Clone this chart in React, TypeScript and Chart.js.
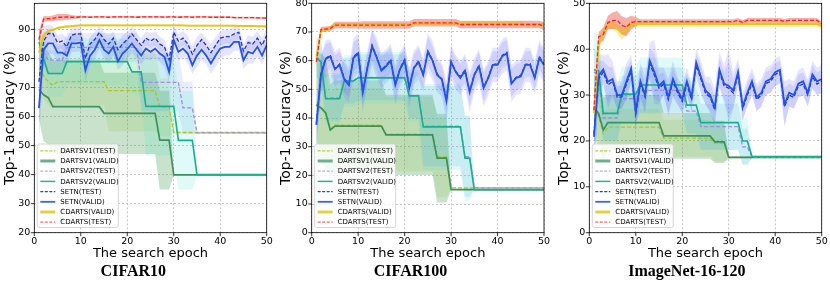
import React, { useEffect, useRef } from 'react';
import { Chart, registerables } from 'chart.js';
Chart.register(...registerables);
Chart.defaults.font.family = '"DejaVu Sans", sans-serif';

const EPOCHS = [
  1, 2, 3, 4, 5, 6, 7, 8, 9, 10,
  11, 12, 13, 14, 15, 16, 17, 18, 19, 20,
  21, 22, 23, 24, 25, 26, 27, 28, 29, 30,
  31, 32, 33, 34, 35, 36, 37, 38, 39, 40,
  41, 42, 43, 44, 45, 46, 47, 48, 49, 50,
];

const LABELS = ['DARTSV1(TEST)', 'DARTSV1(VALID)', 'DARTSV2(TEST)', 'DARTSV2(VALID)', 'SETN(TEST)', 'SETN(VALID)', 'CDARTS(VALID)', 'CDARTS(TEST)'];
const TITLES = ['CIFAR10', 'CIFAR100', 'ImageNet-16-120'];
const X_LABEL = 'The search epoch';
const Y_LABEL = 'Top-1 accuracy (%)';

// ---------------- CIFAR10 ----------------
const C10_V1_TEST = [
  76.6, 74, 72, 70.8, 72, 72, 72, 72, 72, 72,
  72, 72, 72, 72, 72, 68.9, 68.9, 68.9, 68.9, 68.9,
  68.9, 68.9, 68.9, 68.9, 68.9, 68.9, 63.2, 63.2, 63.2, 54.5,
  54.5, 54.5, 54.5, 54.5, 54.5, 54.5, 54.5, 54.5, 54.5, 54.5,
  54.5, 54.5, 54.5, 54.5, 54.5, 54.5, 54.5, 54.5, 54.5, 54.5,
];
const C10_V1_TEST_STD = [
  6, 8, 8, 8, 8, 8, 8, 8, 8, 8,
  8, 8, 8, 8, 8, 14, 14, 14, 14, 14,
  14, 14, 14, 14, 14, 14, 10, 10, 10, 0.3,
  0.3, 0.3, 0.3, 0.3, 0.3, 0.3, 0.3, 0.3, 0.3, 0.3,
  0.3, 0.3, 0.3, 0.3, 0.3, 0.3, 0.3, 0.3, 0.3, 0.3,
];
const C10_V1_VALID = [
  69.3, 67.5, 66.5, 63.4, 63.4, 63.4, 63.4, 63.4, 63.4, 63.4,
  63.4, 63.4, 63.4, 63.4, 61.1, 61.1, 61.1, 61.1, 61.1, 61.1,
  61.1, 61.1, 61.1, 61.1, 61.1, 61.1, 51.9, 51.9, 51.9, 39.9,
  39.9, 39.9, 39.9, 39.9, 39.9, 39.9, 39.9, 39.9, 39.9, 39.9,
  39.9, 39.9, 39.9, 39.9, 39.9, 39.9, 39.9, 39.9, 39.9, 39.9,
];
const C10_V1_VALID_STD = [
  10, 16, 16, 16, 16, 16, 16, 16, 16, 16,
  16, 16, 16, 16, 14, 14, 14, 14, 14, 14,
  14, 14, 14, 14, 14, 14, 17, 17, 17, 0.2,
  0.2, 0.2, 0.2, 0.2, 0.2, 0.2, 0.2, 0.2, 0.2, 0.2,
  0.2, 0.2, 0.2, 0.2, 0.2, 0.2, 0.2, 0.2, 0.2, 0.2,
];
const C10_V2_TEST = [
  84, 82, 79.4, 79.4, 79.4, 79.4, 83.8, 83.8, 83.8, 83.8,
  83.8, 83.8, 83.8, 83.8, 83.8, 83.8, 83.8, 83.8, 83.8, 83.8,
  83.8, 83.8, 71.8, 71.8, 71.8, 71.8, 71.8, 71.8, 71.8, 71.8,
  71.8, 63, 63, 63, 54.4, 54.4, 54.4, 54.4, 54.4, 54.4,
  54.4, 54.4, 54.4, 54.4, 54.4, 54.4, 54.4, 54.4, 54.4, 54.4,
];
const C10_V2_TEST_STD = [
  5, 5, 5, 5, 5, 5, 5, 5, 5, 5,
  5, 5, 5, 5, 5, 5, 5, 5, 5, 5,
  5, 5, 10, 10, 10, 10, 10, 10, 10, 10,
  10, 9, 9, 9, 0.3, 0.3, 0.3, 0.3, 0.3, 0.3,
  0.3, 0.3, 0.3, 0.3, 0.3, 0.3, 0.3, 0.3, 0.3, 0.3,
];
const C10_V2_VALID = [
  85.7, 80, 74.8, 74.8, 74.8, 74.8, 78.9, 78.9, 78.9, 78.9,
  78.9, 78.9, 78.9, 78.9, 78.9, 78.9, 78.9, 78.9, 78.9, 78.9,
  75.4, 75.4, 75.4, 63.5, 63.5, 63.5, 63.5, 63.5, 63.5, 63.5,
  51.8, 51.8, 51.8, 51.8, 40, 40, 40, 40, 40, 40,
  40, 40, 40, 40, 40, 40, 40, 40, 40, 40,
];
const C10_V2_VALID_STD = [
  6, 6, 8, 8, 8, 8, 8, 8, 8, 8,
  8, 8, 8, 8, 8, 8, 8, 8, 8, 8,
  8, 8, 8, 17, 17, 17, 17, 17, 17, 17,
  17, 17, 17, 17, 0.2, 0.2, 0.2, 0.2, 0.2, 0.2,
  0.2, 0.2, 0.2, 0.2, 0.2, 0.2, 0.2, 0.2, 0.2, 0.2,
];
const C10_SETN_TEST = [
  72, 86, 88.6, 88.6, 85.5, 86, 84, 88, 88.5, 88.5,
  80, 85, 86.5, 89, 86.5, 85, 87, 83, 85, 86.5,
  88.5, 86.5, 84.5, 87, 86, 87, 85, 84, 79.5, 89,
  86, 87, 85, 81.5, 84.5, 86.5, 84.5, 82, 84.5, 87,
  87.5, 87.5, 88.5, 89, 82.5, 85.5, 85, 87, 84.5, 88,
];
const C10_SETN_TEST_STD = [
  10, 5, 3, 2.5, 2.5, 2.5, 3, 2.5, 2.5, 2.5,
  3, 2.5, 2.5, 2.5, 2.5, 3, 2.5, 2.5, 3, 2.5,
  2.5, 2.5, 2.5, 2.5, 2.5, 2.5, 2.5, 2.5, 2.5, 2.5,
  2.5, 2.5, 3, 2.5, 3, 2.5, 2.5, 3, 3, 2.5,
  2.5, 2.5, 2.5, 2.5, 2.5, 2.5, 2.5, 2.5, 2.5, 2.5,
];
const C10_SETN_VALID = [
  62.9, 83, 85.2, 85.2, 82, 82, 81, 85.2, 85.2, 85.5,
  76, 81, 83, 86.3, 83, 81.7, 84, 79, 81.7, 83.2,
  85.2, 83, 81, 83.4, 82.3, 83.4, 81.7, 80.6, 75.4, 86.3,
  82.3, 83.4, 81.7, 77.7, 81, 83, 81, 78.3, 81, 83.4,
  84, 84, 85.7, 85.7, 79.4, 82.3, 81.7, 84, 81, 84.6,
];
const C10_SETN_VALID_STD = [
  12, 6, 4, 3.5, 3, 3, 3.5, 3, 3, 3,
  4, 3.5, 3, 3, 3, 3.5, 3, 3, 4, 3.5,
  3, 3, 3, 3.5, 3, 3, 3, 3.5, 3.5, 4,
  3, 3, 3.5, 3, 4, 3.5, 3, 3.5, 4, 3.5,
  3, 3, 3, 3, 3, 4, 3.5, 3.5, 3, 3,
];
const C10_CD_VALID = [
  82, 88, 89.5, 89.8, 90.5, 90.8, 91, 91.1, 91.3, 91.4,
  91.4, 91.4, 91.4, 91.4, 91.4, 91.4, 91.4, 91.4, 91.4, 91.4,
  91.4, 91.4, 91.4, 91.4, 91.4, 91.4, 91.4, 91.4, 91.4, 91.4,
  91.4, 91.4, 91.3, 91.3, 91.3, 91.3, 91.3, 91.3, 91.3, 91.3,
  91.3, 91.3, 91.3, 91.2, 91.2, 91.2, 91.2, 91.1, 91.1, 91.0,
];
const C10_CD_VALID_STD = [
  4, 1, 0.6, 0.5, 0.4, 0.4, 0.4, 0.4, 0.4, 0.4,
  0.35, 0.35, 0.35, 0.35, 0.35, 0.35, 0.35, 0.35, 0.35, 0.35,
  0.35, 0.35, 0.35, 0.35, 0.35, 0.35, 0.35, 0.35, 0.35, 0.35,
  0.35, 0.35, 0.35, 0.35, 0.35, 0.35, 0.35, 0.35, 0.35, 0.35,
  0.35, 0.35, 0.35, 0.35, 0.35, 0.35, 0.35, 0.35, 0.35, 0.35,
];
const C10_CD_TEST = [
  86.5, 93.6, 93.7, 93.8, 94.2, 94.2, 94.3, 94.2, 94.2, 94.3,
  94.3, 94.2, 94.3, 94.3, 94.3, 94.2, 94.3, 94.3, 94.3, 94.3,
  94.3, 94.2, 94.3, 94.3, 94.3, 94.3, 94.3, 94.2, 94.3, 94.3,
  94.2, 94.3, 94.3, 94.2, 94.3, 94.3, 94.3, 94.2, 94.2, 94.2,
  94.2, 94.2, 94.1, 94.1, 94.1, 94.1, 94.1, 94.0, 94.0, 93.9,
];
const C10_CD_TEST_STD = [
  3, 1, 0.8, 1, 1.1, 1.1, 1, 0.8, 0.5, 0.4,
  0.3, 0.3, 0.3, 0.3, 0.3, 0.3, 0.3, 0.3, 0.3, 0.3,
  0.3, 0.3, 0.3, 0.3, 0.3, 0.3, 0.3, 0.3, 0.3, 0.3,
  0.3, 0.3, 0.3, 0.3, 0.3, 0.3, 0.3, 0.3, 0.3, 0.3,
  0.3, 0.3, 0.3, 0.3, 0.3, 0.3, 0.3, 0.3, 0.3, 0.3,
];

// ---------------- CIFAR100 ----------------
const C100_V1_TEST = [
  44.8, 43.8, 42.1, 36.1, 37.5, 37.5, 37.5, 37.5, 37.5, 37.5,
  37.5, 37.5, 37.5, 37.5, 37.5, 34.4, 34.4, 34.4, 34.4, 34.4,
  34.4, 34.4, 34.4, 34.4, 34.4, 34.4, 26.4, 26.4, 26.4, 15.6,
  15.6, 15.6, 15.6, 15.6, 15.6, 15.6, 15.6, 15.6, 15.6, 15.6,
  15.6, 15.6, 15.6, 15.6, 15.6, 15.6, 15.6, 15.6, 15.6, 15.6,
];
const C100_V1_TEST_STD = [
  15, 15, 15, 13, 13, 13, 13, 13, 13, 13,
  13, 13, 13, 13, 13, 13, 13, 13, 13, 13,
  13, 13, 13, 13, 13, 13, 14, 14, 14, 0.2,
  0.2, 0.2, 0.2, 0.2, 0.2, 0.2, 0.2, 0.2, 0.2, 0.2,
  0.2, 0.2, 0.2, 0.2, 0.2, 0.2, 0.2, 0.2, 0.2, 0.2,
];
const C100_V1_VALID = [
  44.5, 43.5, 41.8, 35.8, 37.2, 37.2, 37.2, 37.2, 37.2, 37.2,
  37.2, 37.2, 37.2, 37.2, 37.2, 34.1, 34.1, 34.1, 34.1, 34.1,
  34.1, 34.1, 34.1, 34.1, 34.1, 34.1, 26, 26, 26, 15,
  15, 15, 15, 15, 15, 15, 15, 15, 15, 15,
  15, 15, 15, 15, 15, 15, 15, 15, 15, 15,
];
const C100_V1_VALID_STD = [
  19, 19, 19, 16, 16, 16, 16, 16, 16, 16,
  16, 16, 16, 16, 16, 14, 14, 14, 14, 14,
  14, 14, 14, 14, 14, 14, 15.5, 15.5, 15.5, 0.2,
  0.2, 0.2, 0.2, 0.2, 0.2, 0.2, 0.2, 0.2, 0.2, 0.2,
  0.2, 0.2, 0.2, 0.2, 0.2, 0.2, 0.2, 0.2, 0.2, 0.2,
];
const C100_V2_TEST = [
  61.5, 59.8, 47, 47, 47, 47, 53, 53, 53, 54.2,
  54.2, 54.2, 54.2, 54.2, 54.2, 54.2, 54.2, 54.2, 54.2, 54.2,
  47.9, 47.9, 47.9, 37.2, 37.2, 37.2, 37.2, 37.2, 37.2, 37.2,
  37.2, 37.2, 26.5, 26.5, 15.6, 15.6, 15.6, 15.6, 15.6, 15.6,
  15.6, 15.6, 15.6, 15.6, 15.6, 15.6, 15.6, 15.6, 15.6, 15.6,
];
const C100_V2_TEST_STD = [
  7, 7, 8, 8, 8, 8, 8, 8, 8, 8,
  8, 8, 8, 8, 8, 8, 8, 8, 8, 8,
  8, 8, 8, 14, 14, 14, 14, 14, 14, 14,
  14, 14, 14, 14, 0.2, 0.2, 0.2, 0.2, 0.2, 0.2,
  0.2, 0.2, 0.2, 0.2, 0.2, 0.2, 0.2, 0.2, 0.2, 0.2,
];
const C100_V2_VALID = [
  61, 59.5, 46.7, 46.7, 46.7, 46.7, 52.9, 52.9, 52.9, 54,
  54, 54, 54, 54, 54, 54, 54, 54, 54, 54,
  47.7, 47.7, 47.7, 36.9, 36.9, 36.9, 36.9, 36.9, 36.9, 36.9,
  36.9, 36.9, 26, 26, 15, 15, 15, 15, 15, 15,
  15, 15, 15, 15, 15, 15, 15, 15, 15, 15,
];
const C100_V2_VALID_STD = [
  7, 7, 9, 9, 9, 9, 9, 9, 9, 9,
  9, 9, 9, 9, 9, 9, 9, 9, 9, 9,
  9, 9, 9, 15, 15, 15, 15, 15, 15, 15,
  15, 15, 15, 15, 0.2, 0.2, 0.2, 0.2, 0.2, 0.2,
  0.2, 0.2, 0.2, 0.2, 0.2, 0.2, 0.2, 0.2, 0.2, 0.2,
];
const C100_SETN_TEST = [
  38, 55.4, 60.8, 61.9, 57.2, 58.8, 53.9, 51.7, 61.3, 62.9,
  49.3, 57.8, 65.4, 61.2, 56.8, 58.4, 60.2, 51.9, 57.3, 60.4,
  50.8, 57.7, 59.9, 55.2, 63.4, 60.2, 55.4, 53.7, 46.4, 59.7,
  56.3, 54.4, 56.7, 49.4, 55.2, 58.4, 50.8, 54.2, 58.9, 58.7,
  61.8, 62.9, 52.3, 54.2, 54.9, 58.7, 58.9, 54.2, 61.4, 58.8,
];
const C100_SETN_TEST_STD = [
  7, 6, 5, 4.5, 4.5, 4.5, 5, 4.5, 5, 5,
  5, 4.5, 5, 5, 4.5, 4.5, 4.5, 5, 4.5, 4.5,
  5, 4.5, 4.5, 4.5, 5, 5, 4.5, 4.5, 5, 4.5,
  4.5, 4.5, 4.5, 5, 4.5, 4.5, 5, 4.5, 4.5, 4.5,
  4.5, 4.5, 5, 4.5, 4.5, 4.5, 4.5, 4.5, 4.5, 4.5,
];
const C100_SETN_VALID = [
  37.6, 55, 60.5, 61.5, 57, 58.5, 53.5, 51.5, 61, 62.5,
  49, 57.5, 65, 61, 56.5, 58, 60, 51.5, 57, 60,
  50.5, 57.5, 59.5, 55, 63, 60, 55, 53.5, 46, 59.5,
  56, 54, 56.5, 49, 55, 58, 50.5, 54, 58.5, 58.5,
  61.5, 62.5, 52, 54, 54.5, 58.5, 58.5, 54, 61, 58.5,
];
const C100_SETN_VALID_STD = [
  8, 7, 6.5, 6, 6, 6, 6.5, 6, 7, 7,
  7, 6, 6.5, 7, 6, 6, 6, 7, 6, 6,
  7, 6, 6, 6, 6.5, 7, 6, 6, 7, 6,
  6, 6, 6, 7, 6, 6, 6.5, 6, 6, 6,
  6, 6, 6.5, 6, 6, 6, 6, 6, 6, 6,
];
const C100_CD_VALID = [
  61, 70.5, 70.8, 71.5, 72.5, 72.5, 72.5, 72.5, 72.5, 72.5,
  72.5, 72.5, 72.5, 72.5, 72.5, 72.5, 72.5, 72.5, 72.5, 72.5,
  72.5, 73, 73, 73, 73, 73, 73, 73, 73, 73,
  73, 73, 73, 73, 73, 73, 73, 73, 73, 73,
  73, 73, 73, 73, 73, 72.5, 72.5, 72.5, 72.5, 72.5,
];
const C100_CD_VALID_STD = [
  1.5, 0.6, 0.6, 0.6, 0.6, 0.6, 0.6, 0.6, 0.6, 0.6,
  0.6, 0.6, 0.6, 0.6, 0.6, 0.6, 0.6, 0.6, 0.6, 0.6,
  0.6, 0.6, 0.6, 0.6, 0.6, 0.6, 0.6, 0.6, 0.6, 0.6,
  0.6, 0.6, 0.6, 0.6, 0.6, 0.6, 0.6, 0.6, 0.6, 0.6,
  0.6, 0.6, 0.6, 0.6, 0.6, 0.6, 0.6, 0.6, 0.6, 0.6,
];
const C100_CD_TEST = [
  59.6, 70.9, 71, 71.2, 72.4, 72.4, 72.4, 72.4, 72.4, 72.4,
  72.4, 72.4, 72.4, 72.4, 72.4, 72.4, 72.4, 72.4, 72.4, 72.4,
  72.4, 73.2, 73.2, 73.2, 73.2, 73.2, 73.2, 73.2, 73.2, 73.2,
  73.2, 72.6, 72.6, 72.6, 72.6, 72.6, 72.6, 72.6, 72.6, 72.6,
  72.6, 72.6, 72.6, 72.6, 72.6, 72.6, 72.6, 72.6, 72.6, 72,
];
const C100_CD_TEST_STD = [
  2, 0.9, 0.9, 0.9, 1.2, 1.2, 1.2, 1.2, 1.2, 1.2,
  1.3, 1.3, 1.3, 1.3, 1.3, 1.3, 1.3, 1.3, 1.3, 1.3,
  1.3, 1.3, 1.3, 1.3, 1.3, 1.3, 1.3, 1.3, 1.3, 1.3,
  1.3, 1.3, 1.3, 1.3, 1.3, 1.3, 1.3, 1.3, 1.3, 1.3,
  1.3, 1.3, 1.3, 1.3, 1.3, 1.3, 1.3, 1.3, 1.3, 1.4,
];

// ---------------- ImageNet-16-120 ----------------
const IN_V1_TEST = [
  27, 25.5, 21.6, 23, 23, 23, 23, 23, 23, 23,
  23, 23, 23, 23, 23, 20.6, 20.6, 20.6, 20.6, 20.6,
  20.6, 20.6, 20.6, 20.6, 20.6, 20.6, 19.5, 19.5, 19.5, 16.4,
  16.4, 16.4, 16.4, 16.4, 16.4, 16.4, 16.4, 16.4, 16.4, 16.4,
  16.4, 16.4, 16.4, 16.4, 16.4, 16.4, 16.4, 16.4, 16.4, 16.4,
];
const IN_V1_TEST_STD = [
  5, 5, 5, 4, 4, 4, 4, 4, 4, 4,
  4, 4, 4, 4, 4, 4, 4, 4, 4, 4,
  4, 4, 4, 4, 4, 4, 4, 4, 4, 0.2,
  0.2, 0.2, 0.2, 0.2, 0.2, 0.2, 0.2, 0.2, 0.2, 0.2,
  0.2, 0.2, 0.2, 0.2, 0.2, 0.2, 0.2, 0.2, 0.2, 0.2,
];
const IN_V1_VALID = [
  27.3, 26, 22.4, 24, 24, 24, 24, 24, 24, 24,
  24, 24, 24, 24, 24, 21.1, 21.1, 21.1, 21.1, 21.1,
  21.1, 21.1, 21.1, 21.1, 21.1, 21.1, 19.8, 19.8, 19.8, 16.4,
  16.4, 16.4, 16.4, 16.4, 16.4, 16.4, 16.4, 16.4, 16.4, 16.4,
  16.4, 16.4, 16.4, 16.4, 16.4, 16.4, 16.4, 16.4, 16.4, 16.4,
];
const IN_V1_VALID_STD = [
  7, 7, 7, 6, 6, 6, 6, 6, 6, 6,
  6, 6, 6, 6, 6, 5, 5, 5, 5, 5,
  5, 5, 5, 5, 5, 5, 4.6, 4.6, 4.6, 0.2,
  0.2, 0.2, 0.2, 0.2, 0.2, 0.2, 0.2, 0.2, 0.2, 0.2,
  0.2, 0.2, 0.2, 0.2, 0.2, 0.2, 0.2, 0.2, 0.2, 0.2,
];
const IN_V2_TEST = [
  35, 34.5, 25, 25, 25, 25, 29.2, 29.2, 29.2, 29.2,
  31, 31, 31, 31, 31, 31, 31, 31, 31, 31,
  26.5, 26.5, 26.5, 23.1, 23.1, 23.1, 23.1, 23.1, 23.1, 23.1,
  23.1, 23.1, 18.7, 18.7, 16.5, 16.5, 16.5, 16.5, 16.5, 16.5,
  16.5, 16.5, 16.5, 16.5, 16.5, 16.5, 16.5, 16.5, 16.5, 16.5,
];
const IN_V2_TEST_STD = [
  5, 5, 5, 5, 5, 5, 5, 5, 5, 5,
  5, 5, 5, 5, 5, 5, 5, 5, 5, 5,
  5, 5, 5, 5, 5, 5, 5, 5, 5, 5,
  5, 5, 4, 4, 0.2, 0.2, 0.2, 0.2, 0.2, 0.2,
  0.2, 0.2, 0.2, 0.2, 0.2, 0.2, 0.2, 0.2, 0.2, 0.2,
];
const IN_V2_VALID = [
  35.5, 35.3, 26, 26, 26, 26, 30.2, 30.2, 30.2, 30.2,
  32.2, 32.2, 32.2, 32.2, 32.2, 32.2, 32.2, 32.2, 32.2, 32.2,
  27.8, 27.8, 27.8, 24, 24, 24, 24, 24, 24, 24,
  24, 24, 20, 20, 16.6, 16.6, 16.6, 16.6, 16.6, 16.6,
  16.6, 16.6, 16.6, 16.6, 16.6, 16.6, 16.6, 16.6, 16.6, 16.6,
];
const IN_V2_VALID_STD = [
  8, 8, 6, 6, 6, 6, 6, 6, 6, 6,
  6, 6, 6, 6, 6, 6, 6, 6, 6, 6,
  6, 6, 6, 6, 6, 6, 6, 6, 6, 6,
  6, 6, 5, 5, 0.2, 0.2, 0.2, 0.2, 0.2, 0.2,
  0.2, 0.2, 0.2, 0.2, 0.2, 0.2, 0.2, 0.2, 0.2, 0.2,
];
const IN_SETN_TEST = [
  21.5, 33.5, 35, 32.2, 33, 29.5, 29.6, 32.4, 35.2, 26,
  32.5, 29.6, 37, 34.3, 31.5, 32.4, 29, 33, 30.5, 28.6,
  32.4, 29, 36.5, 33.5, 30.4, 29.5, 26.8, 35, 32, 31.5,
  30.4, 34.5, 27, 30, 32.4, 29, 30, 32.5, 33, 34.5,
  35, 27.5, 30, 29.5, 32, 32.4, 30, 34, 32.4, 33,
];
const IN_SETN_TEST_STD = [
  8, 4, 2.5, 4, 3, 2.5, 2.5, 3, 2.5, 3,
  3, 3, 3, 5, 3, 2.5, 3, 3, 2.5, 2.5,
  2.5, 2.5, 2.5, 3, 2.5, 3, 3, 3, 3, 6,
  3, 2.5, 2.5, 2.5, 2.5, 2.5, 2.5, 2.5, 2.5, 2.5,
  2.5, 4, 2.5, 2.5, 2.5, 2.5, 2.5, 2.5, 2.5, 2.5,
];
const IN_SETN_VALID = [
  20.9, 34.2, 35.6, 32.9, 33.5, 30, 30, 33, 35.8, 26.4,
  33, 30, 37.5, 35, 32, 33, 29.5, 33.5, 31, 29.1,
  33, 29.5, 37.1, 34, 31, 30, 27.3, 35.5, 32.5, 32,
  31, 35, 27.5, 30.5, 33, 29.5, 30.5, 33, 33.5, 35,
  35.5, 28, 30.5, 30, 32.5, 33, 30.5, 34.5, 33, 33.5,
];
const IN_SETN_VALID_STD = [
  10, 5, 3, 6, 4, 3, 3, 4, 3, 4,
  4, 4, 4, 7, 4, 3, 4, 4, 3, 3,
  3, 3, 3, 3.5, 3, 4, 4, 4, 4, 8,
  4, 3, 3, 3, 3, 3, 3, 3, 3, 3,
  3, 5, 3, 3, 3, 3, 3, 3, 3, 3,
];
const IN_CD_VALID = [
  26, 41, 43.5, 45.3, 45.2, 44.5, 43.5, 44.2, 45.5, 45.5,
  45.5, 45.5, 45.5, 45.5, 45.5, 45.5, 45.5, 45.5, 45.5, 45.5,
  45.5, 45.5, 45.5, 45.5, 45.5, 45.5, 45.5, 45.5, 45.5, 45.5,
  45.5, 45.5, 45.5, 45.5, 45.5, 45.5, 45.5, 45.5, 45.5, 45.5,
  45.5, 45.5, 45.5, 45.5, 45.5, 45.5, 45.5, 45.5, 45.5, 45,
];
const IN_CD_VALID_STD = [
  1, 1, 1, 0.8, 0.8, 1, 1.5, 1, 0.8, 0.6,
  0.6, 0.6, 0.6, 0.6, 0.6, 0.6, 0.6, 0.6, 0.6, 0.6,
  0.6, 0.6, 0.6, 0.6, 0.6, 0.6, 0.6, 0.6, 0.6, 0.6,
  0.6, 0.6, 0.6, 0.6, 0.6, 0.6, 0.6, 0.6, 0.6, 0.6,
  0.6, 0.6, 0.6, 0.6, 0.6, 0.6, 0.6, 0.6, 0.6, 0.6,
];
const IN_CD_TEST = [
  26.7, 42.7, 43.2, 45.8, 46.2, 46.3, 45.2, 44.8, 45.8, 46,
  46, 46, 46, 46, 46, 46, 46, 46, 46, 46,
  46, 46, 46, 46, 46, 46, 46, 46, 46, 46,
  46, 46.3, 45.8, 46.3, 46.3, 46.3, 46.3, 46.3, 46.3, 46.3,
  46.3, 46.1, 46.3, 46.3, 46.3, 46.3, 46.3, 46.3, 46.3, 45.5,
];
const IN_CD_TEST_STD = [
  1, 1, 1.5, 1.5, 1.8, 2, 2, 2, 1.5, 1,
  0.5, 0.5, 0.5, 0.5, 0.5, 0.5, 0.5, 0.5, 0.5, 0.5,
  0.5, 0.5, 0.5, 0.5, 0.5, 0.5, 0.5, 0.5, 0.5, 0.5,
  0.5, 0.5, 0.5, 0.5, 0.5, 0.5, 0.5, 0.5, 0.5, 0.5,
  0.5, 0.5, 0.5, 0.5, 0.5, 0.5, 0.5, 0.5, 0.5, 0.5,
];

const STYLES = [
  { color: '#a9c622', dash: true, width: 1.3, band: 'rgba(154,205,50,0.16)', legendColor: '#b5cf3a', legendWidth: 1.3 },
  { color: 'rgba(46,139,87,0.9)', dash: false, width: 1.7, band: 'rgba(60,150,70,0.28)', legendColor: '#6db08a', legendWidth: 3 },
  { color: '#a28be6', dash: true, width: 1.3, band: 'rgba(110,160,230,0.18)', legendColor: '#b9a9ee', legendWidth: 1.3 },
  { color: '#17b08c', dash: false, width: 1.6, band: 'rgba(64,224,208,0.16)', legendColor: '#22b592', legendWidth: 1.5 },
  { color: '#1a36c0', dash: true, width: 1.3, band: 'rgba(100,100,255,0.17)', legendColor: '#2a45c4', legendWidth: 1.3 },
  { color: '#2352ea', dash: false, width: 1.8, band: 'rgba(100,100,255,0.17)', legendColor: '#3a63ee', legendWidth: 1.8 },
  { color: '#e2c61a', dash: false, width: 1.9, band: 'rgba(240,205,30,0.38)', legendColor: '#e3d048', legendWidth: 3 },
  { color: '#ff2222', dash: true, width: 1.3, band: 'rgba(230,70,50,0.42)', legendColor: '#ff6666', legendWidth: 1.3 },
];

const PANELS = [
  {
    title: TITLES[0], left: 0, width: 277, yW: 34.3, padR: 10.3, yMin: 20, yMax: 99, yTitlePad: 1.6,
    means: [C10_V1_TEST, C10_V1_VALID, C10_V2_TEST, C10_V2_VALID, C10_SETN_TEST, C10_SETN_VALID, C10_CD_VALID, C10_CD_TEST],
    stds: [C10_V1_TEST_STD, C10_V1_VALID_STD, C10_V2_TEST_STD, C10_V2_VALID_STD, C10_SETN_TEST_STD, C10_SETN_VALID_STD, C10_CD_VALID_STD, C10_CD_TEST_STD],
  },
  {
    title: TITLES[1], left: 277, width: 275, yW: 34.7, padR: 8, yMin: 0, yMax: 80, yTitlePad: 0.6,
    means: [C100_V1_TEST, C100_V1_VALID, C100_V2_TEST, C100_V2_VALID, C100_SETN_TEST, C100_SETN_VALID, C100_CD_VALID, C100_CD_TEST],
    stds: [C100_V1_TEST_STD, C100_V1_VALID_STD, C100_V2_TEST_STD, C100_V2_VALID_STD, C100_SETN_TEST_STD, C100_SETN_VALID_STD, C100_CD_VALID_STD, C100_CD_TEST_STD],
  },
  {
    title: TITLES[2], left: 552, width: 278, yW: 37.3, padR: 8.3, yMin: 0, yMax: 50, yTitlePad: 3.6,
    means: [IN_V1_TEST, IN_V1_VALID, IN_V2_TEST, IN_V2_VALID, IN_SETN_TEST, IN_SETN_VALID, IN_CD_VALID, IN_CD_TEST],
    stds: [IN_V1_TEST_STD, IN_V1_VALID_STD, IN_V2_TEST_STD, IN_V2_VALID_STD, IN_SETN_TEST_STD, IN_SETN_VALID_STD, IN_CD_VALID_STD, IN_CD_TEST_STD],
  },
];

const framePlugin = {
  id: 'frameTicks',
  afterDatasetsDraw(chart: any) {
    const { ctx, chartArea: a, scales } = chart;
    ctx.save();
    ctx.setLineDash([]);
    ctx.strokeStyle = '#000';
    ctx.lineWidth = 0.8;
    ctx.strokeRect(a.left, a.top, a.right - a.left, a.bottom - a.top);
    ctx.beginPath();
    scales.x.ticks.forEach((t: any) => {
      const px = scales.x.getPixelForValue(t.value);
      ctx.moveTo(px, a.bottom);
      ctx.lineTo(px, a.bottom + 3.5);
    });
    scales.y.ticks.forEach((t: any) => {
      const py = scales.y.getPixelForValue(t.value);
      ctx.moveTo(a.left - 3.5, py);
      ctx.lineTo(a.left, py);
    });
    ctx.stroke();
    ctx.restore();
  },
};

const legendPlugin = {
  id: 'boxLegend',
  afterDraw(chart: any) {
    const { ctx, chartArea: a } = chart;
    const w = 81;
    const h = 83.5;
    const x0 = a.left + 3;
    const y0 = a.bottom - 5.2 - h;
    ctx.save();
    ctx.setLineDash([]);
    ctx.fillStyle = 'rgba(255,255,255,0.82)';
    ctx.strokeStyle = '#cccccc';
    ctx.lineWidth = 0.8;
    ctx.beginPath();
    if (ctx.roundRect) ctx.roundRect(x0, y0, w, h, 2);
    else ctx.rect(x0, y0, w, h);
    ctx.fill();
    ctx.stroke();
    ctx.font = '7px "DejaVu Sans"';
    ctx.textBaseline = 'middle';
    ctx.textAlign = 'left';
    LABELS.forEach((lab, i) => {
      const s = STYLES[i];
      const y = y0 + 6.8 + i * 10.2;
      ctx.beginPath();
      ctx.setLineDash(s.dash ? [3, 1.5] : []);
      ctx.strokeStyle = s.legendColor;
      ctx.lineWidth = s.legendWidth;
      ctx.moveTo(x0 + 3, y);
      ctx.lineTo(x0 + 18, y);
      ctx.stroke();
      ctx.setLineDash([]);
      ctx.fillStyle = '#000';
      ctx.fillText(lab, x0 + 23, y + 0.3);
    });
    ctx.restore();
  },
};

function Panel({ cfg }: { cfg: any }) {
  const ref = useRef<HTMLCanvasElement | null>(null);
  useEffect(() => {
    if (!ref.current) return;
    const datasets: any[] = [];
    cfg.means.forEach((m: number[], i: number) => {
      const sd = cfg.stds[i];
      const st = STYLES[i];
      datasets.push({
        data: EPOCHS.map((e, k) => ({ x: e, y: m[k] - sd[k] })),
        borderWidth: 0, borderColor: 'rgba(0,0,0,0)', pointRadius: 0, fill: false, order: 100 - i,
      });
      datasets.push({
        data: EPOCHS.map((e, k) => ({ x: e, y: m[k] + sd[k] })),
        borderWidth: 0, borderColor: 'rgba(0,0,0,0)', pointRadius: 0, fill: '-1', backgroundColor: st.band, order: 100 - i,
      });
    });
    cfg.means.forEach((m: number[], i: number) => {
      const st = STYLES[i];
      datasets.push({
        label: LABELS[i],
        data: EPOCHS.map((e, k) => ({ x: e, y: m[k] })),
        borderColor: st.color, borderWidth: st.width, borderDash: st.dash ? [4, 2] : [],
        pointRadius: 0, fill: false, tension: 0, order: 50 - i,
      });
    });
    const tickFont = { size: 9.5, family: '"DejaVu Sans"' };
    const chart = new Chart(ref.current, {
      type: 'line',
      data: { datasets },
      plugins: [framePlugin, legendPlugin],
      options: {
        responsive: false,
        animation: false,
        events: [],
        layout: { padding: { left: 0, right: cfg.padR, top: 3.3, bottom: 2.4 } },
        plugins: {
          legend: { display: false },
          tooltip: { enabled: false },
          title: {
            display: true, text: cfg.title, position: 'bottom', color: '#000',
            font: { family: '"Liberation Serif", serif', size: 16, weight: 'bold' },
            padding: { top: 0, bottom: 0 },
          },
        },
        scales: {
          x: {
            type: 'linear', min: 0, max: 50,
            ticks: { stepSize: 10, color: '#000', font: tickFont, padding: 3, maxRotation: 0 },
            grid: { color: '#b0b0b0', lineWidth: 0.7, drawTicks: false },
            border: { display: false, dash: [2, 2] },
            title: { display: true, text: X_LABEL, color: '#000', font: { size: 13, family: '"DejaVu Sans"' }, padding: { top: 0, bottom: 1.3 } },
            afterFit: (s: any) => { s.height = 29.7; s.paddingLeft = 0; s.paddingRight = 0; },
          },
          y: {
            type: 'linear', min: cfg.yMin, max: cfg.yMax,
            ticks: { stepSize: 10, color: '#000', font: tickFont, padding: 4, includeBounds: false },
            grid: { color: '#b0b0b0', lineWidth: 0.7, drawTicks: false },
            border: { display: false, dash: [2, 2] },
            title: { display: true, text: Y_LABEL, color: '#000', font: { size: 14, family: '"DejaVu Sans"' }, padding: { top: cfg.yTitlePad, bottom: 0 } },
            afterFit: (s: any) => { s.width = cfg.yW; s.paddingTop = 0; s.paddingBottom = 0; },
          },
        },
      } as any,
    });
    return () => chart.destroy();
  }, [cfg]);
  return (
    <canvas
      ref={ref}
      width={cfg.width}
      height={284}
      style={{ position: 'absolute', left: cfg.left, top: 0, width: cfg.width, height: 284 }}
    />
  );
}

export default function App() {
  return (
    <div style={{ position: 'fixed', left: 0, top: 0, width: 830, height: 284, background: '#fff', overflow: 'hidden' }}>
      {PANELS.map((p) => (
        <Panel key={p.title} cfg={p} />
      ))}
    </div>
  );
}
